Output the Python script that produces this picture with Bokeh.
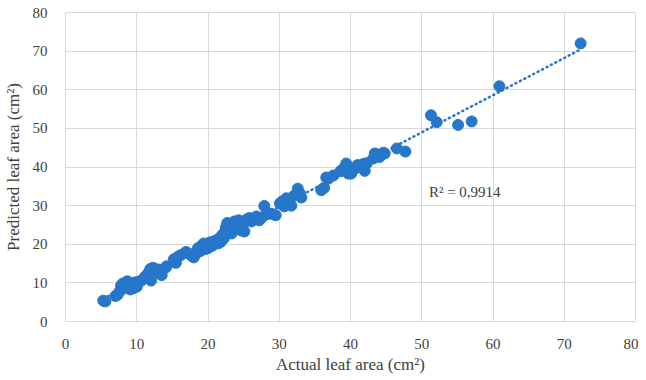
import numpy as np
from bokeh.plotting import figure
from bokeh.models import FixedTicker, Range1d, Label, Title
from bokeh.embed import file_html
from bokeh.resources import INLINE

actual = [5.3, 5.6, 7.0, 7.3, 7.6, 7.8, 8.0, 8.2, 8.5, 8.7, 8.9, 9.1, 9.3, 9.5, 9.7, 10.0,
          10.2, 10.6, 11.0, 11.3, 11.6, 11.9, 12.0, 12.3, 12.6, 12.9, 13.3, 13.5, 14.0, 14.2,
          15.2, 15.5, 15.8, 16.2, 16.9, 17.3, 17.7, 18.0, 18.3, 18.6, 18.9, 19.2, 19.4, 19.7,
          20.0, 20.3, 20.6, 20.9, 21.2, 21.4, 21.6, 21.8, 22.0, 22.2, 22.4, 22.5, 22.7, 22.9,
          23.1, 23.3, 23.5, 23.7, 24.0, 24.3, 24.6, 24.9, 25.1, 25.4, 25.8, 26.1, 26.4, 26.8,
          27.2, 27.6, 27.9, 28.3, 28.9, 29.5, 30.1, 30.4, 30.7, 31.0, 31.4, 31.7, 32.1, 32.6,
          32.9, 33.1, 35.9, 36.3, 36.6, 36.9, 37.6, 38.6, 39.0, 39.4, 39.7, 40.1, 40.5, 41.0,
          41.5, 41.8, 42.0, 42.3, 43.2, 43.4, 43.6, 43.9, 44.1, 44.6, 44.8, 46.5, 47.7, 51.3,
          52.1, 55.1, 57.0, 60.9, 72.3]
predicted = [5.4, 5.2, 6.6, 6.9, 7.8, 9.3, 9.8, 8.6, 10.2, 10.4, 9.6, 8.3, 9.8, 8.6, 10.1, 9.0,
             10.3, 10.5, 11.2, 11.8, 12.5, 13.6, 10.6, 13.9, 12.4, 13.5, 13.1, 12.0, 13.9, 14.3,
             16.1, 15.2, 16.8, 17.2, 18.0, 17.6, 17.0, 16.6, 17.5, 19.0, 18.2, 19.8, 20.2, 18.8,
             19.0, 20.5, 19.6, 20.8, 21.0, 20.2, 21.6, 20.6, 22.4, 21.5, 23.2, 24.3, 25.5, 24.0,
             25.2, 22.8, 24.8, 25.9, 24.4, 26.2, 23.6, 25.2, 23.3, 26.4, 26.8, 25.9, 26.6, 27.2,
             26.2, 27.0, 29.9, 27.8, 27.9, 27.5, 30.6, 31.1, 29.8, 31.9, 30.3, 30.0, 32.6, 34.4,
             33.2, 32.1, 34.0, 34.6, 37.3, 37.0, 37.8, 38.9, 39.6, 40.9, 38.3, 38.3, 39.4, 40.5,
             40.1, 40.8, 39.0, 41.0, 42.2, 43.5, 43.3, 43.0, 42.6, 43.7, 43.5, 44.8, 44.0, 53.4,
             51.6, 50.9, 51.8, 60.9, 72.0]
ticks = [0, 10, 20, 30, 40, 50, 60, 70, 80]
r2_text = "R² = 0,9914"
x_title = "Actual leaf area (cm²)"
y_title = "Predicted leaf area (cm²)"

BLUE = "#2676c9"
TXT = "#404040"
GRID = "#d9d9d9"
FONT = "Liberation Serif"

p = figure(frame_width=570, frame_height=309, output_backend="svg", toolbar_location=None,
           x_range=Range1d(0, 80), y_range=Range1d(0, 80),
           min_border_left=57, min_border_right=3, min_border_top=12, min_border_bottom=0)

# trendline (linear fit of the data)
xa = np.array(actual)
ya = np.array(predicted)
k, b = np.polyfit(xa, ya, 1)
xl = np.array([xa.min(), xa.max()])
p.line(xl, k * xl + b, line_color=BLUE, line_width=2.5, line_dash="1 4", line_cap="round")

p.scatter(actual, predicted, size=11, fill_color=BLUE, line_color=BLUE)

p.add_layout(Label(x=51.0, y=33.4, text=r2_text, text_font=FONT, text_font_size="15px",
                   text_color=TXT, text_baseline="middle", text_align="left"))

# x-axis title as a title below the axis
p.add_layout(Title(text=x_title, align="center", text_font=FONT, text_font_size="17px",
                   text_font_style="normal", text_color=TXT, standoff=3, offset=0), "below")

for ax in (p.xaxis, p.yaxis):
    ax.ticker = FixedTicker(ticks=ticks)
    ax.axis_line_color = None
    ax.major_tick_line_color = None
    ax.minor_tick_line_color = None
    ax.major_label_text_font = FONT
    ax.major_label_text_font_size = "15px"
    ax.major_label_text_color = TXT
    ax.axis_label_text_font = FONT
    ax.axis_label_text_font_size = "17px"
    ax.axis_label_text_font_style = "normal"
    ax.axis_label_text_color = TXT

p.yaxis.axis_label = y_title
p.xaxis.major_label_standoff = 11
p.yaxis.major_label_standoff = 12
p.yaxis.axis_label_standoff = 7

p.xgrid.grid_line_color = GRID
p.ygrid.grid_line_color = GRID
p.outline_line_color = GRID
p.background_fill_color = "white"
p.border_fill_color = "white"

open("out.html", "w").write(file_html(p, INLINE))
